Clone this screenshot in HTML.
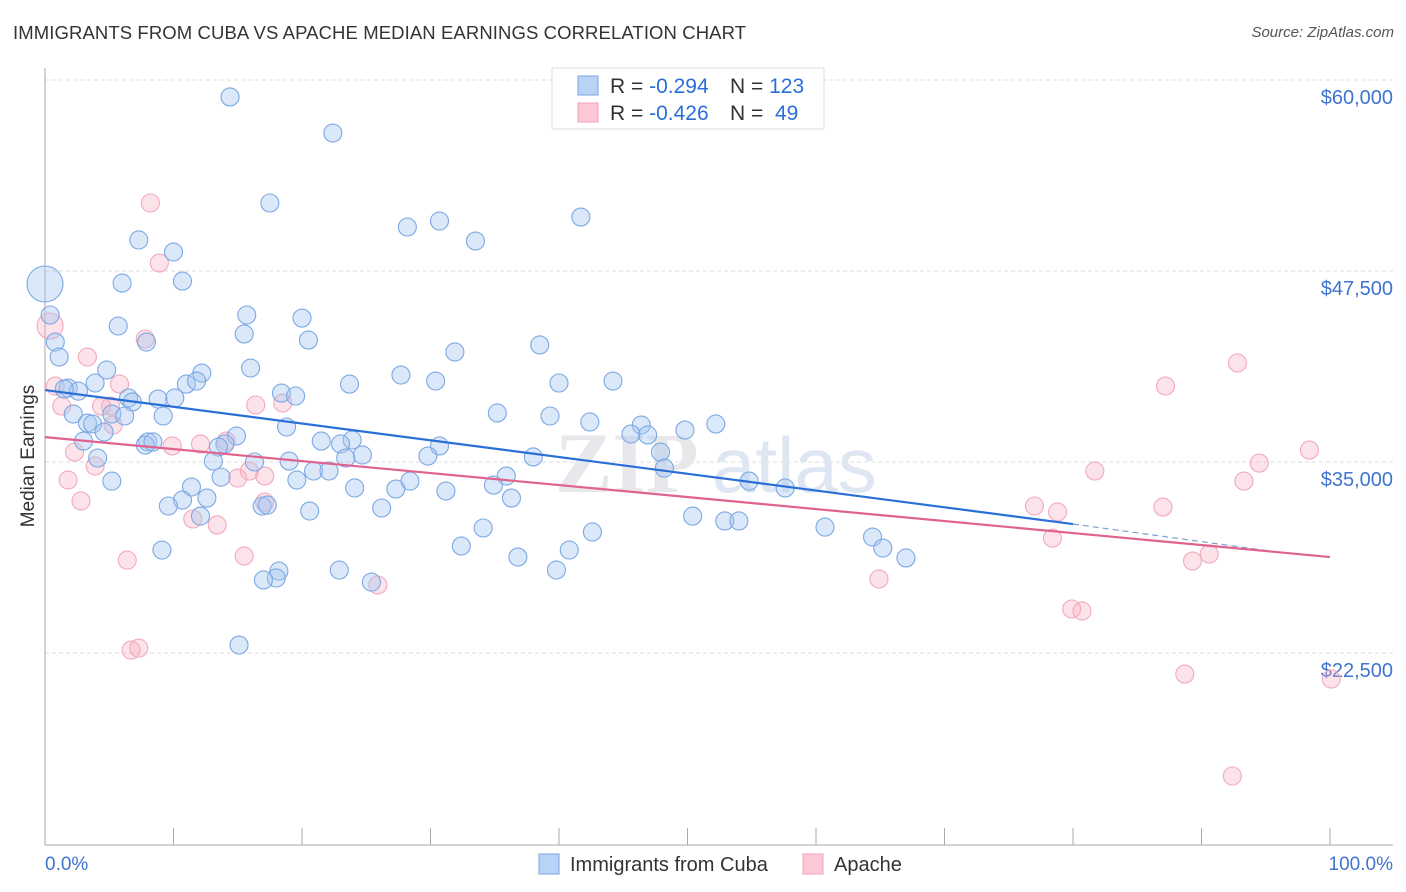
<!DOCTYPE html>
<html><head><meta charset="utf-8"><style>
body{margin:0;background:#fff;font-family:"Liberation Sans",sans-serif;}
#wrap{position:relative;width:1406px;height:892px;overflow:hidden;}
.title{position:absolute;left:13px;top:22px;font-size:18.5px;color:#333;letter-spacing:0.1px;}
.src{position:absolute;right:12px;top:24px;font-size:15px;color:#555;font-style:italic;}
</style></head><body>
<div id="wrap">
<div class="title">IMMIGRANTS FROM CUBA VS APACHE MEDIAN EARNINGS CORRELATION CHART</div>
<div class="src">Source: ZipAtlas.com</div>
<svg id="svg" width="1406" height="892" style="position:absolute;left:0;top:0"></svg>
</div>
<script>
const cubaX=[14.4,22.4,17.5,28.2,30.7,33.5,41.7,7.3,10.0,10.7,6.0,0,0.4,15.7,5.7,20.0,15.5,20.5,0.8,7.9,1.1,31.9,38.5,4.8,12.2,16.0,27.7,30.4,40.0,44.2,3.9,1.8,2.6,11.0,11.8,23.7,18.4,19.5,1.5,6.5,8.8,10.1,6.8,2.2,5.2,6.2,9.2,35.2,39.3,42.4,3.3,3.7,18.8,46.4,52.2,49.8,4.6,3.0,8.0,14.9,21.5,23.9,30.7,45.6,46.9,7.8,8.4,14.0,13.5,23.0,24.7,23.4,4.1,13.1,16.3,19.0,29.8,38.0,47.9,48.2,5.2,13.7,20.9,22.1,19.6,35.9,28.4,54.8,57.6,11.4,10.7,12.6,9.6,12.1,24.1,27.3,31.2,34.9,36.3,26.2,16.9,17.3,20.6,50.4,52.9,54.0,60.7,34.1,42.6,64.4,65.2,67.0,9.1,32.4,36.8,40.8,39.8,18.2,18.0,17.0,22.9,25.4,15.1];
const cubaY=[58890,56530,51950,50380,50770,49460,51030,49530,48740,46840,46710,46650,44620,44620,43900,44420,43380,42980,42850,42850,41870,42200,42660,41020,40820,41150,40690,40300,40170,40300,40170,39840,39640,40100,40300,40100,39510,39320,39780,39190,39120,39190,38930,38140,38140,38010,38010,38210,38010,37620,37550,37490,37290,37420,37490,37090,36960,36370,36310,36700,36370,36440,36050,36830,36770,36110,36310,36180,35980,36180,35460,35260,35260,35060,35000,35060,35390,35330,35650,34600,33750,34010,34410,34410,33820,34080,33750,33750,33300,33360,32510,32640,32120,31460,33300,33230,33100,33490,32640,31990,32120,32180,31790,31460,31140,31140,30740,30680,30420,30090,29370,28720,29240,29500,28780,29240,27930,27860,27410,27280,27930,27140,23020];
const apacheX=[8.2,8.9,0.4,7.8,3.3,0.8,5.8,1.3,4.4,5.1,16.4,18.5,5.3,9.9,12.1,14.1,2.3,3.9,15.9,15.0,17.1,1.8,17.1,2.8,11.5,13.4,6.4,15.5,6.7,7.3,25.9,92.8,87.2,98.4,94.5,93.3,81.7,77.0,78.8,87.0,78.4,64.9,79.9,80.7,89.3,90.6,88.7,100.1,92.4];
const apacheY=[51950,48020,43900,43050,41870,39970,40100,38660,38660,38660,38730,38860,37420,36050,36180,36370,35650,34740,34410,33950,34080,33820,32380,32450,31270,30880,28580,28850,22690,22820,26950,41480,39970,35780,34930,33750,34410,32120,31730,32050,30020,27340,25380,25250,28520,28980,21120,20800,14450];
const yTicks=[60000,47500,35000,22500];
const yTickLabels=["$60,000","$47,500","$35,000","$22,500"];
const cubaTrend=[39710,30940,29040]; // value at 0%, 80%, 96.5%
const apacheTrend=[36630,28780]; // value at 0%, 100%

const X=p=>45+p*12.85;
const Y=v=>80+(60000-v)*191/12500;
const NS="http://www.w3.org/2000/svg";
const svg=document.getElementById('svg');
function mk(tag,attrs,parent){const e=document.createElementNS(NS,tag);for(const k in attrs)e.setAttribute(k,attrs[k]);(parent||svg).appendChild(e);return e;}

yTicks.forEach((v,i)=>{
 const g=mk('line',{x1:45,x2:1393,y1:Y(v),y2:Y(v),stroke:'#ddd','stroke-dasharray':'4,3'});
 
 
 const t=mk('text',{x:1393,y:Y(v)+24,'text-anchor':'end','font-size':20,fill:'#3f74d0','font-family':'Liberation Sans'});
 t.textContent=yTickLabels[i];
 
 
});
const wm=mk('text',{x:555,y:492,'font-size':86,fill:'#e8e8ec','font-family':'Liberation Serif','font-weight':'bold'});
wm.textContent='ZIP';


const wm2=mk('text',{x:712,y:492,'font-size':78,fill:'#dfe6f3','font-family':'Liberation Sans'});
wm2.textContent='atlas';


const ax=mk('line',{x1:45,x2:45,y1:68,y2:845,stroke:'#aaa'});


const bx=mk('line',{x1:45,x2:1393,y1:845,y2:845,stroke:'#aaa'});


for(let i=1;i<=10;i++){
 const tk=mk('line',{x1:X(i*10),x2:X(i*10),y1:828,y2:845,stroke:'#aaa'});
 
 
}
function txt(s,attrs,name){const t=mk('text',Object.assign({'font-family':'Liberation Sans'},attrs));t.textContent=s;return t;}
txt('0.0%',{x:45,y:870,'font-size':19,fill:'#3f74d0'},'x-min-label');
txt('100.0%',{x:1393,y:870,'font-size':19,fill:'#3f74d0','text-anchor':'end'},'x-max-label');
txt('Median Earnings',{x:34,y:456,'font-size':19,fill:'#333','text-anchor':'middle',transform:'rotate(-90 34 456)'},'y-axis-title');

apacheX.forEach((p,i)=>{
 const c=mk('circle',{cx:X(p),cy:Y(apacheY[i]),r:(i==2?13:9),fill:'rgba(246,170,192,0.33)',stroke:'#f2a9bd','stroke-width':1.1});
 
 
});
cubaX.forEach((p,i)=>{
 const c=mk('circle',{cx:X(p),cy:Y(cubaY[i]),r:(i==11?18:9),fill:'rgba(165,198,240,0.4)',stroke:'#7ca8e4','stroke-width':1.1});
 
 
});
const t1=mk('line',{x1:X(0),y1:Y(cubaTrend[0]),x2:X(80),y2:Y(cubaTrend[1]),stroke:'#2a6fd8','stroke-width':2.2});


const t1b=mk('line',{x1:X(80),y1:Y(cubaTrend[1]),x2:X(96.5),y2:Y(cubaTrend[2]),stroke:'#7e9fcf','stroke-width':1.2,'stroke-dasharray':'6,4'});


const t2=mk('line',{x1:X(0),y1:Y(apacheTrend[0]),x2:X(100),y2:Y(apacheTrend[1]),stroke:'#e0628e','stroke-width':2.2});



const lg=mk('rect',{x:552,y:68,width:272,height:61,fill:'#fff',stroke:'#ddd'});


const s1=mk('rect',{x:578,y:76,width:20,height:19,fill:'#b8d3f5',stroke:'#7aa6e0'});


const s2=mk('rect',{x:578,y:103,width:20,height:19,fill:'#fcc8d6',stroke:'#f0a3b9'});


function rich(y,r,n,name){const t=mk('text',{x:610,y:y,'font-size':21,'font-family':'Liberation Sans',fill:'#333'});
 t.innerHTML='R = <tspan fill="#2a6fd8">'+r+'</tspan><tspan x="730">N = </tspan><tspan fill="#2a6fd8">'+n+'</tspan>';
 }
rich(93,'-0.294','123','legend-stats-cuba');
rich(120,'-0.426','&#160;49','legend-stats-apache');

const b1=mk('rect',{x:539,y:854,width:20,height:20,fill:'#b8d3f5',stroke:'#7aa6e0'});


txt('Immigrants from Cuba',{x:570,y:871,'font-size':20,fill:'#333'},'legend-label-cuba');
const b2=mk('rect',{x:803,y:854,width:20,height:20,fill:'#fcc8d6',stroke:'#f0a3b9'});


txt('Apache',{x:834,y:871,'font-size':20,fill:'#333'},'legend-label-apache');
</script>
</body></html>
